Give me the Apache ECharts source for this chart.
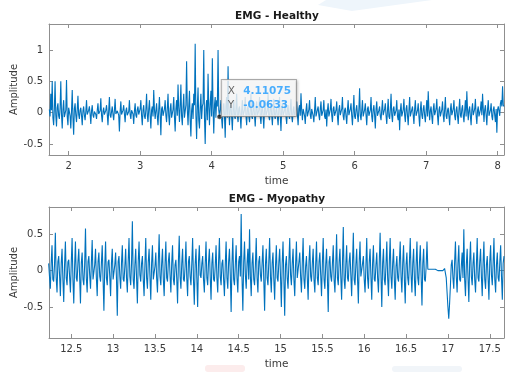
<!DOCTYPE html>
<html>
<head>
<meta charset="utf-8">
<script src="https://cdn.jsdelivr.net/npm/echarts@6.0.0/dist/echarts.min.js"></script>
<style>
  html, body { margin: 0; padding: 0; background: #fff; }
  #chart { width: 505px; height: 372px; }
</style>
</head>
<body>
<div id="chart"></div>
<script>
// healthy recording at 0.01 s spacing
const healthyStart = 1.73
const healthyStep = 0.01
const healthyAmp = [
  0.05,-0.06, 0.3,0.04, 0.5,-0.08, -0.2,0.06, 0.5,-0.04, -0.22,0.08, 0.15,-0.05, -0.1,0.07, 0.5,-0.03, -0.25,0.05,
  0.2,-0.07, -0.1,0.04, 0.52,-0.06, -0.2,0.08, 0.1,-0.05, -0.25,0.03, 0.36,-0.08, -0.35,0.06, 0.15,-0.04, -0.15,0.05,
  0.27,-0.03, -0.1,0.04, 0.08,-0.05, -0.2,0.03, 0.1,-0.04, -0.12,0.02, 0.2,-0.03, -0.05,0.04, 0.1,-0.02, -0.18,0.03,
  0.12,-0.04, -0.08,0.02, 0.05,-0.03, -0.1,0.04, 0.15,-0.02, -0.05,0.03, 0.23,-0.04, -0.15,0.02, 0.08,-0.03, -0.06,0.04,
  0.12,-0.02, -0.2,0.03, 0.25,-0.04, -0.08,0.02, 0.1,-0.03, -0.12,0.04, 0.22,-0.02, -0.05,0.03, 0.06,-0.04, -0.3,0.02,
  0.18,-0.03, -0.06,0.04, 0.12,-0.02, -0.15,0.03, 0.08,-0.04, -0.04,0.02, 0.2,-0.03, -0.1,0.04, 0.05,-0.02, -0.18,0.03,
  0.15,-0.04, -0.08,0.05, 0.1,-0.03, -0.05,0.06, 0.2,-0.05, -0.2,0.04, 0.12,-0.06, -0.1,0.05, 0.3,-0.04, -0.15,0.06,
  0.2,-0.05, -0.25,0.04, 0.1,-0.06, 0.36,0.05, -0.1,0.03, 0.15,-0.06, -0.2,0.05, 0.25,-0.04, -0.36,0.06, 0.1,-0.05,
  -0.05,0.06, 0.2,-0.04, -0.15,0.07, 0.3,-0.05, -0.2,0.06, 0.15,-0.08, -0.1,0.05, 0.25,-0.07, -0.3,0.06, 0.2,-0.05,
  0.45,0.08, -0.15,0.1, 0.45,-0.06, -0.2,0.09, 0.3,-0.08, -0.1,0.12, 0.82,0.05, -0.2,0.1, 0.35,-0.12, -0.38,0.04,
  0.15,-0.1, 0.3,0.12, 1.1,-0.05, -0.42,0.1, 0.4,-0.12, -0.25,0.08, 0.3,-0.1, 0.1,0.15, 1.0,-0.08, -0.5,0.06,
  0.2,-0.12, 0.62,0.1, -0.2,0.14, 0.35,-0.06, 0.87,0.08, -0.33,0.12, 0.25,-0.08, 0.2,0.1, 1.0,0.04, -0.06,0.05,
  0.2,-0.1, -0.25,0.08, 0.15,-0.06, -0.4,0.1, 0.25,-0.08, 0.74,0.06, -0.2,0.09, 0.15,-0.07, -0.28,0.05, 0.2,-0.06,
  -0.1,0.05, 0.3,-0.04, -0.15,0.06, 0.1,-0.05, -0.25,0.04, 0.2,-0.06, -0.05,0.05, 0.25,-0.04, -0.2,0.06, 0.1,-0.05,
  -0.15,0.04, 0.3,-0.06, -0.1,0.05, 0.12,-0.04, -0.22,0.06, 0.18,-0.05, -0.05,0.04, 0.25,-0.06, -0.18,0.05, 0.1,-0.04,
  -0.25,0.06, 0.2,-0.05, -0.08,0.04, 0.3,-0.06, -0.12,0.05, 0.15,-0.04, -0.2,0.06, 0.22,-0.05, -0.1,0.04, 0.08,-0.06,
  -0.2,0.05, 0.25,-0.04, -0.29,0.06, 0.15,-0.05, -0.05,0.04, 0.2,-0.06, -0.18,0.05, 0.12,-0.04, -0.1,0.06, 0.22,-0.05,
  -0.15,0.04, 0.1,-0.06, -0.05,0.05, 0.18,-0.04, -0.2,0.06, 0.12,-0.05, 0.31,0.04, -0.12,0.06, 0.08,-0.05, -0.18,0.04,
  0.15,-0.06, -0.05,0.05, 0.2,-0.04, -0.1,0.06, 0.05,-0.05, -0.15,0.04, 0.25,-0.06, -0.08,0.05, 0.1,-0.04, -0.12,0.06,
  0.18,-0.05, -0.06,0.04, 0.2,-0.06, -0.1,0.05, -0.22,0.04, 0.15,-0.06, -0.05,0.05, 0.22,-0.04, -0.15,0.06, 0.1,-0.05,
  -0.08,0.04, 0.18,-0.06, -0.2,0.05, 0.12,-0.04, -0.05,0.06, 0.25,-0.05, -0.12,0.04, 0.08,-0.06, -0.18,0.05, 0.2,-0.04,
  -0.05,0.06, 0.15,-0.05, -0.2,0.04, 0.28,-0.06, -0.1,0.05, 0.12,-0.04, -0.15,0.06, 0.39,-0.05, -0.12,0.04, 0.2,-0.06,
  -0.08,0.05, 0.15,-0.04, -0.2,0.06, 0.1,-0.05, -0.05,0.04, 0.25,-0.06, -0.15,0.05, 0.12,-0.04, -0.25,0.06, 0.18,-0.05,
  -0.08,0.04, 0.1,-0.06, -0.12,0.05, 0.2,-0.04, -0.05,0.06, 0.15,-0.05, -0.18,0.04, 0.22,-0.06, -0.1,0.05, 0.3,-0.04,
  -0.15,0.06, 0.1,-0.05, -0.08,0.04, 0.2,-0.06, -0.12,0.05, -0.28,0.04, 0.15,-0.06, -0.05,0.05, 0.22,-0.04, -0.15,0.06,
  0.12,-0.05, -0.2,0.04, 0.25,-0.06, -0.08,0.05, 0.1,-0.04, -0.18,0.06, 0.2,-0.05, -0.05,0.04, 0.15,-0.06, -0.22,0.05,
  0.18,-0.04, -0.1,0.06, 0.12,-0.05, -0.15,0.04, 0.2,-0.06, 0.34,0.05, -0.12,0.04, 0.1,-0.06, -0.18,0.05, 0.15,-0.04,
  -0.05,0.06, 0.22,-0.05, -0.2,0.04, 0.1,-0.06, -0.08,0.05, 0.18,-0.04, -0.15,0.06, 0.25,-0.05, -0.1,0.04, 0.08,-0.06,
  -0.2,0.05, 0.15,-0.04, -0.05,0.06, 0.2,-0.05, -0.12,0.04, 0.1,-0.06, -0.18,0.05, 0.22,-0.04, -0.08,0.06, 0.12,-0.05,
  -0.15,0.04, 0.2,-0.06, 0.34,0.05, -0.12,0.04, 0.1,-0.06, -0.2,0.05, 0.15,-0.04, -0.05,0.06, 0.22,-0.05, -0.18,0.04,
  0.1,-0.06, -0.08,0.05, 0.18,-0.04, 0.3,0.06, -0.15,0.05, 0.12,-0.04, -0.2,0.06, 0.2,-0.05, -0.05,0.04, 0.15,-0.06,
  -0.12,0.05, 0.1,-0.04, -0.15,0.06, -0.32,0.05, 0.1,0.12, -0.05,0.15, 0.2,0.1, 0.42,0.12, 0.1
]

// myopathy recording, same spacing
const myopathyStart = 12.23
const myopathyStep = 0.01
const myopathyAmp = [
  0.1,-0.08, -0.25,0.1, 0.35,-0.12, -0.15,0.08, 0.52,-0.1, -0.3,0.12, 0.2,-0.06, -0.35,0.1, 0.3,-0.12, -0.43,0.08,
  0.4,-0.1, -0.2,0.12, 0.15,-0.08, -0.3,0.1, 0.45,-0.12, -0.45,0.06, 0.4,-0.1, -0.15,0.12, 0.3,-0.08, -0.45,0.1,
  0.25,-0.12, -0.2,0.08, 0.58,-0.1, -0.3,0.12, 0.2,-0.06, -0.25,0.1, 0.42,-0.12, -0.1,0.08, 0.3,-0.1, -0.35,0.12,
  0.25,-0.08, -0.15,0.1, 0.35,-0.12, -0.55,0.06, 0.4,-0.1, -0.2,0.12, 0.15,-0.08, -0.35,0.1, 0.3,-0.12, -0.1,0.08,
  0.25,-0.1, -0.62,0.12, 0.2,-0.08, -0.25,0.1, 0.35,-0.12, -0.15,0.06, 0.3,-0.1, -0.3,0.12, 0.45,-0.08, -0.2,0.1,
  0.68,-0.12, -0.25,0.08, 0.3,-0.1, -0.45,0.12, 0.4,-0.06, -0.15,0.1, 0.2,-0.12, -0.35,0.08, 0.45,-0.1, -0.25,0.12,
  0.3,-0.08, -0.4,0.1, 0.35,-0.12, -0.1,0.06, 0.25,-0.1, -0.3,0.12, 0.5,-0.08, -0.2,0.1, 0.3,-0.12, -0.35,0.08,
  0.4,-0.1, -0.15,0.12, 0.25,-0.06, -0.3,0.1, 0.35,-0.12, -0.2,0.08, 0.15,-0.1, -0.45,0.12, 0.48,-0.08, -0.25,0.1,
  0.3,-0.12, -0.15,0.06, 0.4,-0.1, -0.35,0.12, 0.2,-0.08, -0.2,0.1, 0.45,-0.12, -0.47,0.08, 0.3,-0.1, -0.5,0.12,
  0.35,-0.06, -0.1,0.1, 0.2,-0.12, -0.3,0.08, 0.4,-0.1, -0.2,0.12, 0.3,-0.08, -0.4,0.1, 0.25,-0.12, -0.15,0.06,
  0.35,-0.1, -0.3,0.12, 0.45,-0.08, -0.2,0.1, 0.15,-0.12, -0.35,0.08, 0.4,-0.1, -0.25,0.12, 0.3,-0.06, -0.57,0.1,
  0.45,-0.12, -0.2,0.08, 0.35,-0.1, -0.3,0.12, 0.2,-0.08, 0.78,-0.1, -0.55,0.12, 0.4,-0.06, -0.25,0.1, 0.3,-0.12,
  0.57,-0.08, -0.35,0.1, 0.25,-0.12, -0.2,0.08, 0.45,-0.1, -0.3,0.12, 0.2,-0.06, -0.15,0.1, 0.35,-0.12, -0.55,0.08,
  0.3,-0.1, -0.2,0.12, 0.45,-0.08, -0.3,0.1, 0.25,-0.12, -0.4,0.06, 0.35,-0.1, -0.15,0.12, 0.3,-0.08, -0.5,0.1,
  0.4,-0.12, -0.62,0.08, 0.2,-0.1, -0.25,0.12, 0.45,-0.06, -0.2,0.1, 0.3,-0.12, -0.35,0.08, 0.4,-0.1, -0.1,0.12,
  0.25,-0.08, -0.3,0.1, 0.45,-0.12, -0.25,0.06, 0.2,-0.1, -0.4,0.12, 0.35,-0.08, -0.15,0.1, 0.3,-0.12, -0.3,0.08,
  0.4,-0.1, -0.2,0.12, 0.25,-0.06, -0.35,0.1, 0.45,-0.12, -0.25,0.08, 0.3,-0.1, -0.57,0.12, 0.2,-0.08, -0.15,0.1,
  0.35,-0.12, -0.3,0.06, 0.5,-0.1, -0.2,0.12, 0.3,-0.08, -0.4,0.1, 0.6,-0.12, -0.25,0.08, 0.35,-0.1, -0.15,0.12,
  0.25,-0.06, -0.35,0.1, 0.52,-0.12, -0.2,0.08, 0.3,-0.1, -0.45,0.12, 0.4,-0.08, -0.1,0.1, 0.2,-0.12, -0.3,0.06,
  0.45,-0.1, -0.25,0.12, 0.3,-0.08, -0.4,0.1, 0.35,-0.12, -0.15,0.08, 0.25,-0.1, -0.3,0.12, 0.52,-0.06, -0.5,0.1,
  0.3,-0.12, -0.2,0.08, 0.4,-0.1, -0.35,0.12, 0.45,-0.08, -0.25,0.1, 0.3,-0.12, -0.4,0.06, 0.2,-0.1, -0.15,0.12,
  0.4,-0.08, -0.3,0.1, 0.35,-0.12, -0.45,0.08, 0.25,-0.1, -0.2,0.12, 0.45,-0.06, -0.3,0.1, 0.3,-0.12, -0.35,0.08,
  0.4,-0.1, -0.2,0.12, 0.35,-0.08, -0.48,0.1, 0.3,-0.12, -0.15,0.06, 0.4,0.02, 0.02,0.02, 0.02,0.02, 0.03,0.02,
  0.01,0.01, 0.02,0.01, 0.0,0.0, 0.0,0.0, 0.0,0.0, 0.01,0.0, -0.02,0.03, 0.05,-0.1, -0.3,-0.5, -0.66,-0.45,
  -0.2,0.08, 0.15,-0.1, -0.25,0.12, 0.4,-0.08, -0.3,0.1, 0.35,-0.12, -0.15,0.06, 0.25,-0.1, 0.57,-0.12, -0.35,0.08,
  0.3,-0.1, -0.43,0.12, 0.4,-0.08, -0.2,0.1, 0.25,-0.12, -0.3,0.06, 0.45,-0.1, -0.15,0.12, 0.3,-0.08, -0.35,0.1,
  0.4,-0.12, -0.25,0.08, 0.2,-0.1, -0.4,0.12, 0.35,-0.06, -0.2,0.1, 0.45,-0.12, -0.3,0.08, 0.25,-0.1, -0.15,0.12,
  0.35,-0.08, -0.4,0.1, 0.2
]

const healthyXTicks = [2, 3, 4, 5, 6, 7, 8]
const healthyYTicks = [-0.5, 0, 0.5, 1]
const myopathyXTicks = [12.5, 13, 13.5, 14, 14.5, 15, 15.5, 16, 16.5, 17, 17.5]
const myopathyYTicks = [-0.5, 0, 0.5]

// datatip pinned on the healthy trace
const tipPoint = [4.11075, -0.0633]

const FONT = 'DejaVu Sans'
const TEXT = '#3a3a3a'
const FRAME = '#8f8f8f'
const LINE = '#0072BD'

const toPairs = (start, step, amp) =>
    amp.map((v, i) => [+(start + i * step).toFixed(4), v])

const chart = echarts.init(document.getElementById('chart'), null, { renderer: 'canvas' })

function axisBase(gridIndex, min, max, ticks) {
    return {
        gridIndex,
        type: 'value',
        min,
        max,
        splitLine: { show: false },
        axisLine: { show: true, onZero: false, lineStyle: { color: FRAME, width: 1 } },
        axisTick: { show: true, inside: true, length: 4, customValues: ticks, lineStyle: { color: FRAME } },
    }
}

const tickLabel = (ticks) => ({
    customValues: ticks,
    margin: 6,
    fontFamily: FONT,
    fontSize: 10,
    color: TEXT,
    formatter: (v) => String(v),
})

function xAxes(gridIndex, min, max, ticks) {
    const base = axisBase(gridIndex, min, max, ticks)
    return [
        {
            ...base,
            position: 'bottom',
            name: 'time',
            nameLocation: 'middle',
            nameGap: 21,
            nameMoveOverlap: false,
            nameTextStyle: { fontFamily: FONT, fontSize: 10.5, color: TEXT },
            axisLabel: tickLabel(ticks),
        },
        { ...base, position: 'top', axisLabel: { show: false } },
    ]
}

function yAxes(gridIndex, min, max, ticks) {
    const base = axisBase(gridIndex, min, max, ticks)
    return [
        {
            ...base,
            position: 'left',
            name: 'Amplitude',
            nameLocation: 'middle',
            nameGap: 30,
            nameMoveOverlap: false,
            nameTextStyle: { fontFamily: FONT, fontSize: 10, color: TEXT },
            axisLabel: tickLabel(ticks),
        },
        { ...base, position: 'right', axisLabel: { show: false } },
    ]
}

const titleStyle = { fontFamily: FONT, fontSize: 10.5, fontWeight: 'bold', color: '#1a1a1a' }

const option = {
    animation: false,
    backgroundColor: '#fff',
    graphic: [
        // faint watermark patches from the source page
        { type: 'polygon', silent: true, z: -10, shape: { points: [[326, 0], [432, 0], [352, 11], [318, 5]] }, style: { fill: '#eef5fb' } },
        { type: 'rect', silent: true, z: -10, shape: { x: 205, y: 365, width: 40, height: 7, r: 3 }, style: { fill: '#fcecec' } },
        { type: 'rect', silent: true, z: -10, shape: { x: 392, y: 366, width: 70, height: 6, r: 3 }, style: { fill: '#f1f5f9' } },
    ],
    title: [
        { text: 'EMG - Healthy', left: 277, top: 11, textAlign: 'center', textStyle: titleStyle, padding: 0 },
        { text: 'EMG - Myopathy', left: 277, top: 194, textAlign: 'center', textStyle: titleStyle, padding: 0 },
    ],
    grid: [
        { left: 49, top: 24, right: 1, height: 131, containLabel: false, outerBoundsMode: 'none' },
        { left: 49, top: 207, right: 1, height: 131, containLabel: false, outerBoundsMode: 'none' },
    ],
    xAxis: [
        ...xAxes(0, 1.725, 8.09, healthyXTicks),
        ...xAxes(1, 12.234, 17.67, myopathyXTicks),
    ],
    yAxis: [
        ...yAxes(0, -0.675, 1.415, healthyYTicks),
        ...yAxes(1, -0.926, 0.875, myopathyYTicks),
    ],
    series: [
        {
            name: 'Healthy',
            type: 'line',
            xAxisIndex: 0,
            yAxisIndex: 0,
            data: toPairs(healthyStart, healthyStep, healthyAmp),
            showSymbol: false,
            lineStyle: { color: LINE, width: 1.1 },
        },
        {
            name: 'Myopathy',
            type: 'line',
            xAxisIndex: 2,
            yAxisIndex: 2,
            data: toPairs(myopathyStart, myopathyStep, myopathyAmp),
            showSymbol: false,
            lineStyle: { color: LINE, width: 1.1 },
        },
        {
            name: 'datatip',
            type: 'scatter',
            xAxisIndex: 0,
            yAxisIndex: 0,
            data: [tipPoint],
            symbolSize: 5,
            itemStyle: { color: '#111', borderColor: '#fff', borderWidth: 0.5 },
            z: 10,
            label: {
                show: true,
                position: [5, -34],
                backgroundColor: '#fff',
                borderColor: '#9a9a9a',
                borderWidth: 1,
                shadowColor: 'rgba(0,0,0,0.25)',
                shadowBlur: 3,
                shadowOffsetX: 1,
                shadowOffsetY: 1,
                padding: [4, 5, 4, 6],
                formatter: () => `{k|X} {v|${tipPoint[0]}}\n{k|Y} {v|${tipPoint[1]}}`,
                rich: {
                    k: { fontFamily: FONT, fontSize: 10.5, color: '#404040', lineHeight: 14, width: 12 },
                    v: { fontFamily: FONT, fontSize: 10.5, fontWeight: 'bold', color: '#1e9bff', lineHeight: 14 },
                },
            },
        },
    ],
}

chart.setOption(option)
</script>
</body>
</html>
